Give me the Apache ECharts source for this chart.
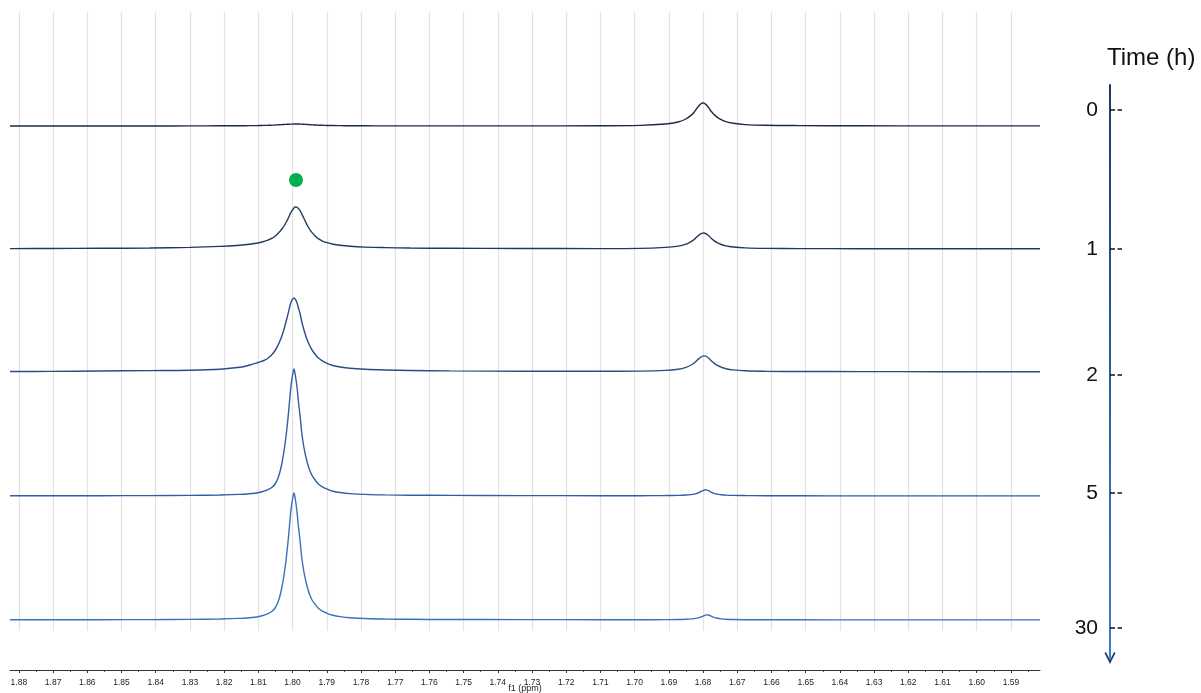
<!DOCTYPE html>
<html><head><meta charset="utf-8">
<script src="https://cdn.jsdelivr.net/npm/echarts@6/dist/echarts.min.js"></script>
<style>html,body{margin:0;padding:0;background:#fff}#c{width:1201px;height:693px}</style>
</head><body><div id="c"></div>
<script>
// chemical shift axis (ppm) shared by all spectra
const ppm = [1.8826,1.8709,1.8563,1.8417,1.8300,1.8212,1.8154,1.8125,1.8101,
  1.8084,1.8072,1.8060,1.8051,1.8043,1.8037,1.8031,1.8025,1.8019,1.8013,
  1.8009,1.8005,1.8000,1.7996,1.7992,1.7987,1.7983,1.7978,
  1.7973,1.7967,1.7961,1.7955,1.7949,1.7943,1.7934,1.7926,1.7914,1.7899,
  1.7882,1.7861,1.7832,1.7788,1.7730,1.7657,1.7540,1.7335,1.7101,1.6984,
  1.6911,1.6873,1.6850,1.6835,1.6826,1.6818,1.6812,1.6806,1.6801,1.6797,
  1.6793,1.6788,1.6782,1.6777,1.6768,1.6759,1.6747,1.6733,1.6712,1.6677,
  1.6619,1.6516,1.6341,1.6107,1.5815];
// intensities for each time point
const t0h = [0,0,0,0.05,0.1,0.2,0.3,0.35,0.45,
  0.6,0.7,0.85,1.0,1.15,1.25,1.4,1.5,1.65,1.75,
  1.85,1.9,1.95,2.0,2.0,2.0,2.0,1.95,
  1.85,1.75,1.6,1.45,1.3,1.15,1.0,0.85,0.7,0.55,
  0.45,0.35,0.25,0.2,0.15,0.1,0.1,0.1,0.2,0.6,
  2.0,4.0,7.0,10.7,13.8,17.7,20.3,22.3,23.0,22.8,
  21.9,20.3,17.7,15.0,11.5,8.9,6.3,4.3,2.7,1.4,
  0.7,0.4,0.2,0.1,0.1];
const t1h = [0.4,0.5,0.7,1.0,1.6,2.6,3.8,4.8,6.0,
  7.5,8.8,10.8,12.8,15.5,17.5,20,23,26.5,30.5,
  33.5,36.5,39,41,42,41.8,40.5,38.5,
  35,30.8,26.5,22.5,19.2,16.4,13,10.6,8.2,6.3,
  4.8,3.7,2.7,1.9,1.4,1.0,0.7,0.5,0.4,0.6,
  1.6,2.9,4.9,7.4,9.5,12.2,13.9,15.3,15.9,16,
  15.5,14.5,12.8,10.9,8.4,6.4,4.5,3.1,2.0,1.1,
  0.6,0.4,0.3,0.2,0.2];
const t2h = [0.5,0.6,1.0,1.4,1.8,2.8,4.7,7.0,9.5,
  11.5,13.8,17.5,21.5,26.5,31,36.2,42.8,50.3,58.4,
  64.2,69.3,72.8,74,72.8,69.3,64.2,58.2,
  50.2,42.5,35.8,30.3,25.7,22,17.7,14.4,11.3,8.6,
  6.5,5.0,3.7,2.7,2.0,1.5,1.1,0.8,0.7,0.9,
  1.6,2.8,4.7,7.0,9.0,11.6,13.4,15.0,15.8,16.1,
  15.8,15.0,13.4,11.5,8.9,6.8,4.8,3.3,2.1,1.2,
  0.7,0.5,0.4,0.3,0.3];
const t5h = [0.2,0.2,0.3,0.4,0.6,1.0,1.6,2.3,3.2,
  4.8,6.3,8.8,12,17.5,24,33,45,60,79,
  94,109,121,127,121,109,95,80,
  63,49,39,31,25,20.5,16,12.5,9.3,6.8,
  4.8,3.5,2.4,1.6,1.1,0.8,0.6,0.4,0.3,0.3,
  0.45,0.65,0.95,1.4,1.9,2.7,3.5,4.5,5.3,5.9,
  6.2,5.95,5.05,3.95,2.7,1.9,1.3,0.9,0.65,0.45,
  0.3,0.2,0.1,0.1,0.1];
const t30h = [0.2,0.2,0.3,0.4,0.6,1.0,1.6,2.3,3.2,
  4.8,6.3,8.8,12,17.5,24,33,45,60,79,
  94,109,121,127,121,108,94,79,
  62,48.5,38.5,30.5,24.5,20,15.7,12.3,9.1,6.7,
  4.7,3.4,2.3,1.5,1.0,0.7,0.5,0.4,0.3,0.3,
  0.35,0.55,0.8,1.1,1.4,1.9,2.4,3.1,3.7,4.35,
  4.9,5.1,4.75,3.9,2.65,1.8,1.15,0.75,0.45,0.3,
  0.25,0.2,0.15,0.1,0.1];
const spectra = [t0h, t1h, t2h, t5h, t30h];
// time labels
const timeLabels = ['0','1','2','5','30'];
// green marker above the 1 h spectrum
const markerPoint = [1.7990, 69];
// x tick labels
const majorTicks = [1.88,1.87,1.86,1.85,1.84,1.83,1.82,1.81,1.80,1.79,1.78,1.77,1.76,1.75,1.74,1.73,1.72,1.71,1.70,1.69,1.68,1.67,1.66,1.65,1.64,1.63,1.62,1.61,1.60,1.59];
const minorTicks = [1.875,1.865,1.855,1.845,1.835,1.825,1.815,1.805,1.795,1.785,1.775,1.765,1.755,1.745,1.735,1.725,1.715,1.705,1.695,1.685,1.675,1.665,1.655,1.645,1.635,1.625,1.615,1.605,1.595,1.585];

// ---- layout / style ----
const X_MIN = 1.5815, X_MAX = 1.8826;
const baselineBottoms = [567, 444, 321, 197, 73];
const traceColors = ['#1b2b45','#22395d','#294e85','#2f5fa4','#3a71bc'];
const timeTickAt = [25, 164, 290, 408, 543];
const FONT = 'Liberation Sans, Arial, sans-serif';

const grids = [], xAxes = [], yAxes = [], series = [];
function mkGrid(o){ return Object.assign({outerBoundsMode:'none',containLabel:false}, o); }
function hiddenX(g){ return {gridIndex:g,type:'value',inverse:true,min:X_MIN,max:X_MAX,show:false}; }
// grid 0: background split lines only
grids.push(mkGrid({left:10,right:161,top:12,bottom:62}));
xAxes.push({gridIndex:0,type:'value',inverse:true,min:X_MIN,max:X_MAX,position:'bottom',
  axisLine:{show:false},
  axisTick:{show:false,customValues:majorTicks},
  axisLabel:{show:false,customValues:majorTicks},
  splitLine:{show:true,lineStyle:{color:'#e2e2e2',width:1.2}}});
yAxes.push({gridIndex:0,type:'value',show:false});
// grid 1: visible axis with major ticks and labels
grids.push(mkGrid({left:10,right:161,top:12,bottom:23}));
xAxes.push({gridIndex:1,type:'value',inverse:true,min:X_MIN,max:X_MAX,position:'bottom',
  axisLine:{show:true,lineStyle:{color:'#333',width:1}},
  axisTick:{show:true,customValues:majorTicks,length:3,lineStyle:{color:'#333',width:1}},
  axisLabel:{show:true,customValues:majorTicks,formatter:v=>Number(v).toFixed(2),fontSize:8.5,color:'#222',margin:8.5,fontFamily:FONT},
  splitLine:{show:false},
  name:'f1 (ppm)',nameLocation:'middle',nameGap:14,nameMoveOverlap:false,
  nameTextStyle:{fontSize:9,color:'#222',fontFamily:FONT,verticalAlign:'top'}});
yAxes.push({gridIndex:1,type:'value',show:false});
// grid 2: minor ticks
grids.push(mkGrid({left:10,right:161,top:12,bottom:23}));
xAxes.push({gridIndex:2,type:'value',inverse:true,min:X_MIN,max:X_MAX,position:'bottom',
  axisLine:{show:false},
  axisTick:{show:true,customValues:minorTicks,length:1.8,lineStyle:{color:'#333',width:1}},
  axisLabel:{show:false},splitLine:{show:false}});
yAxes.push({gridIndex:2,type:'value',show:false});
// spectra grids
spectra.forEach((vals,i)=>{
  const g = grids.length;
  grids.push(mkGrid({left:10,right:161,bottom:baselineBottoms[i],height:130}));
  xAxes.push(hiddenX(g));
  yAxes.push({gridIndex:g,type:'value',min:0,max:130,show:false});
  series.push({type:'line',xAxisIndex:g,yAxisIndex:g,data:ppm.map((p,k)=>[p,vals[k]]),
    showSymbol:false,symbol:'none',smooth:0.35,clip:false,
    lineStyle:{color:traceColors[i],width:1.4}});
  if(i===1){
    series.push({type:'scatter',xAxisIndex:g,yAxisIndex:g,data:[markerPoint],symbolSize:14,clip:false,
      itemStyle:{color:'#00b050',opacity:1}});
  }
});
// time axis grid
const tg = grids.length;
grids.push(mkGrid({left:1110,width:20,top:85,bottom:35}));
xAxes.push({gridIndex:tg,type:'value',show:false});
yAxes.push({gridIndex:tg,type:'value',inverse:true,min:0,max:573,position:'left',
  axisLine:{show:true,symbol:['path://M0,10L5,0L10,10L8.7,10.9L5,3.6L1.3,10.9Z','none'],symbolSize:[15,12],
    lineStyle:{width:2,color:{type:'linear',x:0,y:85,x2:0,y2:662,global:true,
      colorStops:[{offset:0,color:'#1f3a60'},{offset:1,color:'#3b7fd3'}]}}},
  axisTick:{show:true,inside:true,length:12,customValues:timeTickAt,lineStyle:{color:'#111',width:1.5,type:[5,2.5]}},
  axisLabel:{show:true,customValues:timeTickAt,margin:12,fontSize:21,color:'#111',fontFamily:FONT,
    formatter:v=>timeLabels[timeTickAt.indexOf(Number(v))]},
  splitLine:{show:false}});

const chart = echarts.init(document.getElementById('c'),null,{renderer:'canvas'});
chart.setOption({
  animation:false,
  backgroundColor:'#fff',
  title:{text:'Time (h)',left:1107,top:46,padding:0,textStyle:{fontSize:24,fontWeight:'normal',color:'#111',fontFamily:FONT}},
  grid:grids,xAxis:xAxes,yAxis:yAxes,series:series
});
</script></body></html>
